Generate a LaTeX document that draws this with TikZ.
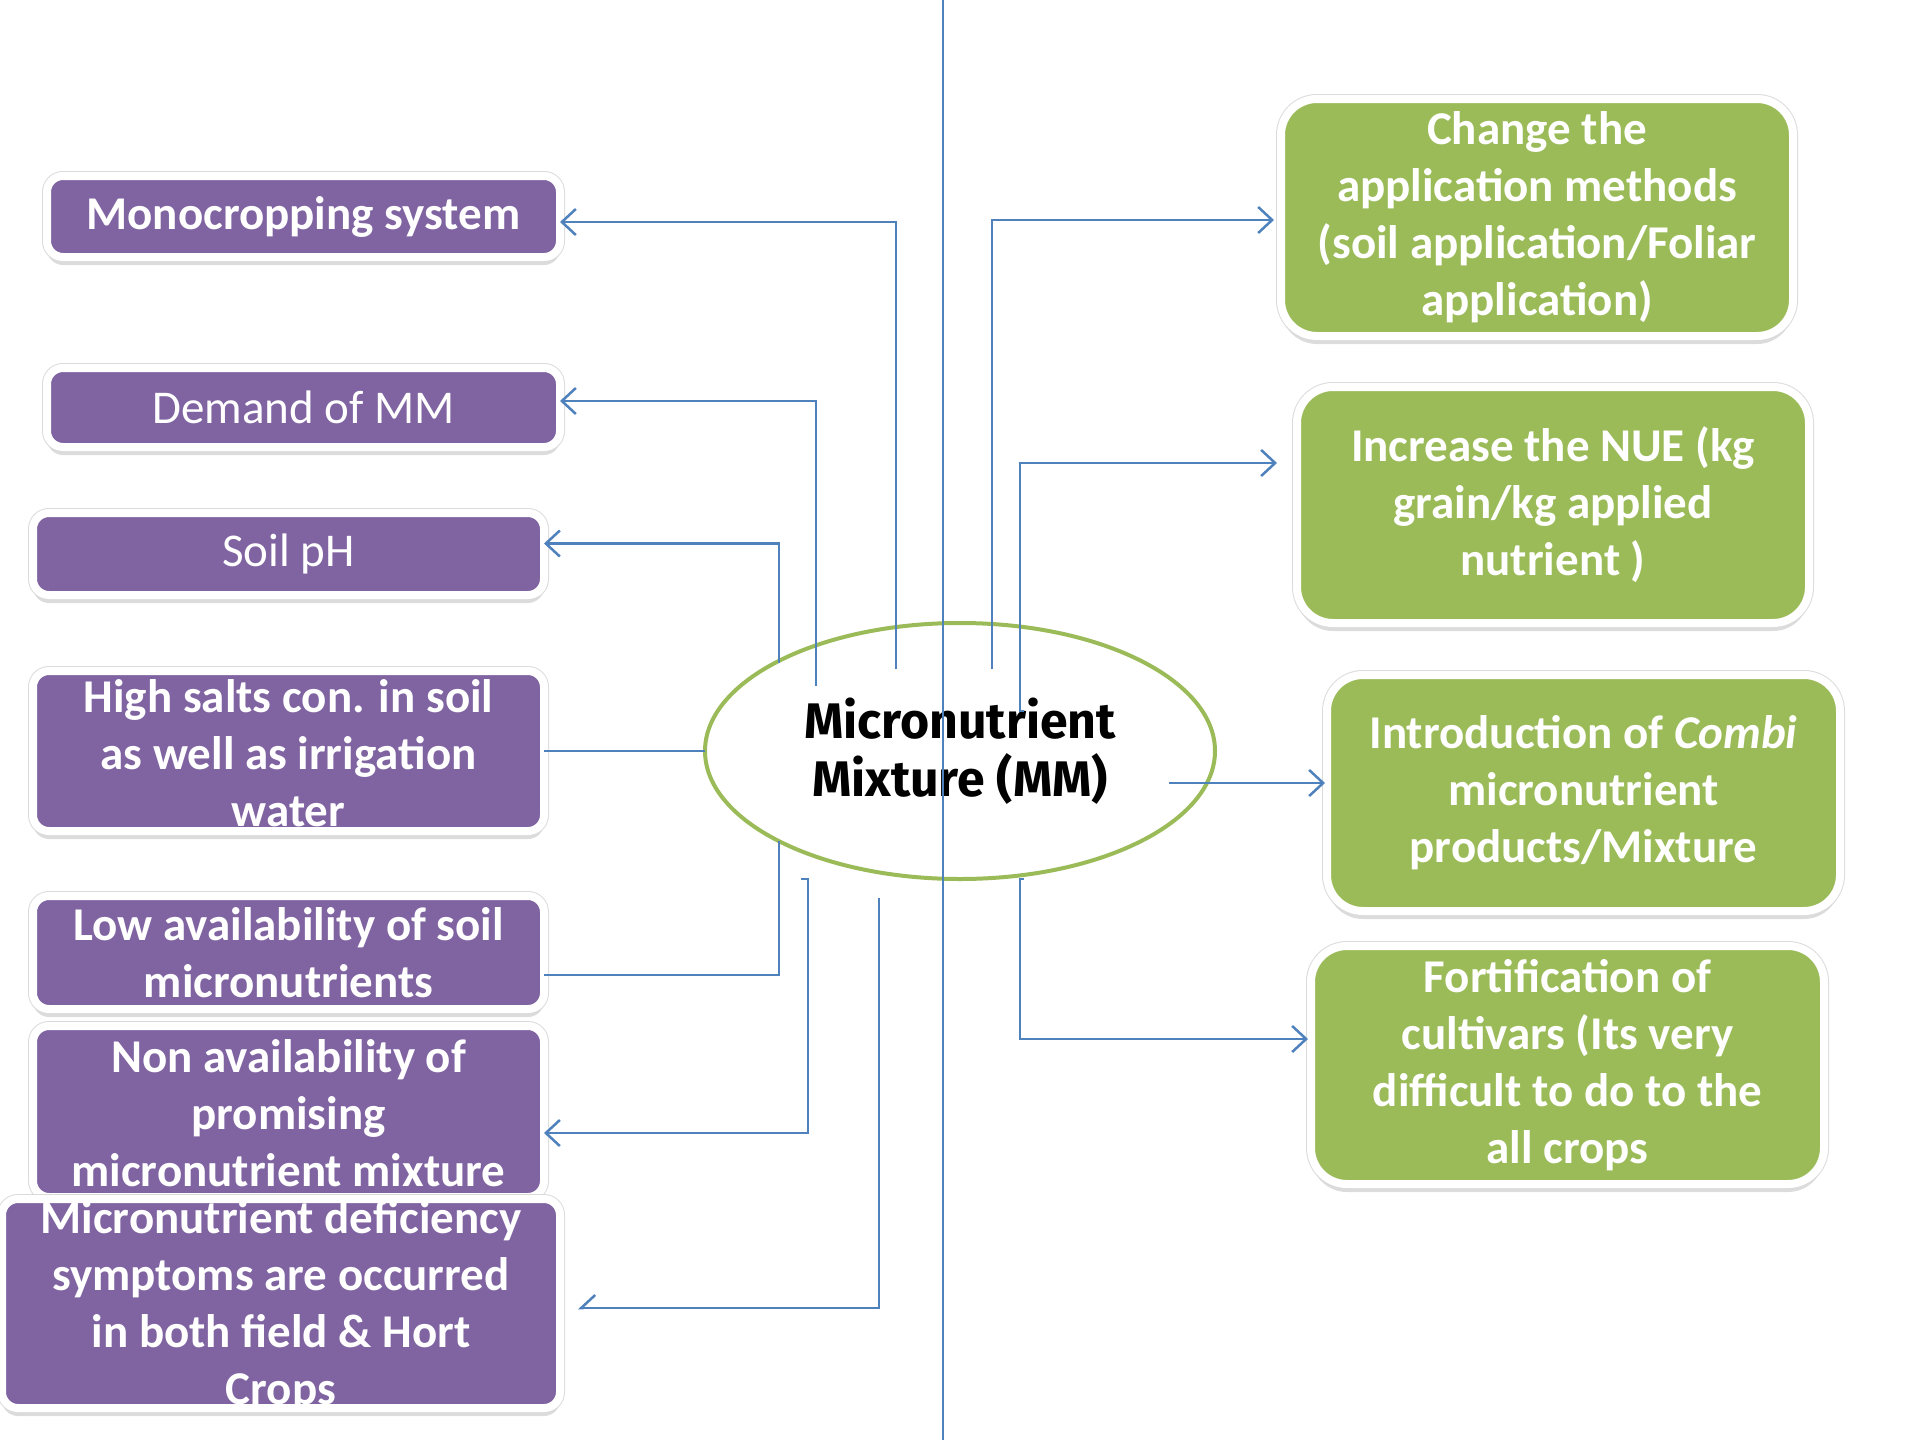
\documentclass[tikz,border=0pt]{standalone}
\usepackage{fontspec}
\setmainfont{Carlito}
\newfontfamily\ellfont{Fira Sans}
\usetikzlibrary{arrows.meta,shadows,shapes.geometric}
\definecolor{boxpurple}{HTML}{8064A2}
\definecolor{boxgreen}{HTML}{9BBB59}
\definecolor{linkblue}{HTML}{4F81BD}
\begin{document}
\begin{tikzpicture}[x=1pt,y=-1pt,
  every node/.style={inner sep=0pt, outer sep=0pt},
  basebox/.style={draw=white, line width=8pt,
    drop shadow={shadow xshift=0pt, shadow yshift=-8pt, opacity=0.28},
    preaction={draw=black!14, line width=10pt}},
  pbox/.style={basebox, fill=boxpurple, rounded corners=16pt},
  gbox/.style={basebox, fill=boxgreen, rounded corners=36pt},
  txt/.style={text=white, align=center, font=\fontsize{47}{57}\selectfont\bfseries},
  rtxt/.style={text=white, align=center, font=\fontsize{47}{57}\selectfont},
  link/.style={draw=linkblue, line width=2.5pt},
  arr/.style={-{Straight Barb[length=14pt,width=26pt]}},
  harr/.style={-{Straight Barb[length=14pt,width=26pt,harpoon,swap]}},
  vline/.style={draw=linkblue, line width=2pt}
]
\useasboundingbox (0,0) rectangle (1915,1440);

% left (purple) boxes
\node[pbox, minimum width=513pt, minimum height=81pt] (l1) at (303.5,216.5) {};
\node[txt] (t1) at (l1) {Monocropping system};
\node[pbox, minimum width=513pt, minimum height=79pt] (l2) at (303.5,407.5) {};
\node[rtxt] (t2) at (l2) {Demand of MM};
\node[pbox, minimum width=511pt, minimum height=82pt] (l3) at (288.5,554) {};
\node[rtxt] (t3) at (l3) {Soil pH};
\node[pbox, minimum width=511pt, minimum height=160pt] (l4) at (288.5,751) {};
\node[txt] (t4) at (288.5,753) {High salts con. in soil\\as well as irrigation\\water};
\node[pbox, minimum width=511pt, minimum height=113pt] (l5) at (288.5,952.5) {};
\node[txt] (t5) at (l5) {Low availability of soil\\micronutrients};
\node[pbox, minimum width=511pt, minimum height=171pt] (l6) at (288.5,1111.5) {};
\node[txt] (t6) at (288.5,1113) {Non availability of\\promising\\micronutrient mixture};
\node[pbox, minimum width=558pt, minimum height=209pt] (l7) at (281,1303.5) {};
\node[txt] (t7) at (281,1306) {Micronutrient deficiency\\symptoms are occurred\\in both field \& Hort\\Crops};

% right (green) boxes
\node[gbox, minimum width=512pt, minimum height=237pt] (r1) at (1537,217.5) {};
\node[txt] (rt1) at (r1) {Change the\\application methods\\(soil application/Foliar\\application)};
\node[gbox, minimum width=512pt, minimum height=236pt] (r2) at (1553,505) {};
\node[txt] (rt2) at (r2) {Increase the NUE (kg\\grain/kg applied\\nutrient )};
\node[gbox, minimum width=513pt, minimum height=236pt] (r3) at (1583.5,793) {};
\node[txt] (rt3) at (r3) {Introduction of \textit{Combi}\\micronutrient\\products/Mixture};
\node[gbox, minimum width=513pt, minimum height=238pt] (r4) at (1567.5,1065) {};
\node[txt] (rt4) at (r4) {Fortification of\\cultivars (Its very\\difficult to do to the\\all crops};

% central ellipse
\node[ellipse, draw=boxgreen, line width=4pt, fill=white,
  minimum width=510pt, minimum height=256pt, align=center,
  font=\ellfont\fontsize{50}{58}\selectfont\bfseries] (mm) at (960,751)
  {Micronutrient\\Mixture (MM)};

% free ends of connectors
\coordinate (c1) at (896,669);
\coordinate (c2) at (816,686);
\coordinate (c3) at (779,663);
\coordinate (c5) at (779,841);
\coordinate (c6) at (801,879);
\coordinate (c6b) at (808,879);
\coordinate (c7) at (879,898);
\coordinate (d1) at (992,669);
\coordinate (d2) at (1024,711);
\coordinate (d2b) at (1020,711);
\coordinate (d3) at (1169,783);
\coordinate (d4) at (1024,879);
\coordinate (d4b) at (1020,879);

% left connectors
\draw[link,arr] (c1) |- (l1.east |- 0,222);
\draw[link,arr] (c2) |- (l2.east |- 0,401);
\draw[link,arr] (c3) |- (l3.east |- 0,543.5);
\draw[link] (mm.west) -- (l4.east |- mm.west);
\draw[link] (c5) |- (l5.east |- 0,975);
\draw[link,arr] (c6) -- (c6b) |- (l6.east |- 0,1133);
\draw[link,harr] (c7) |- ([xshift=18pt]l7.east |- 0,1308);

% right connectors
\draw[link,arr] (d1) |- ([xshift=-7pt]r1.west |- 0,220);
\draw[link,arr] (d2) -- (d2b) |- ([xshift=-20pt]r2.west |- 0,463);
\draw[link,arr] (d3) -- ([xshift=-2pt]r3.west |- d3);
\draw[link,arr] (d4) -- (d4b) |- ([xshift=-3pt]r4.west |- 0,1039);

% vertical divider
\coordinate (vtop) at (943,0);
\coordinate (vbot) at (943,1440);
\draw[vline] (vtop) -- (vbot);
\end{tikzpicture}
\end{document}
